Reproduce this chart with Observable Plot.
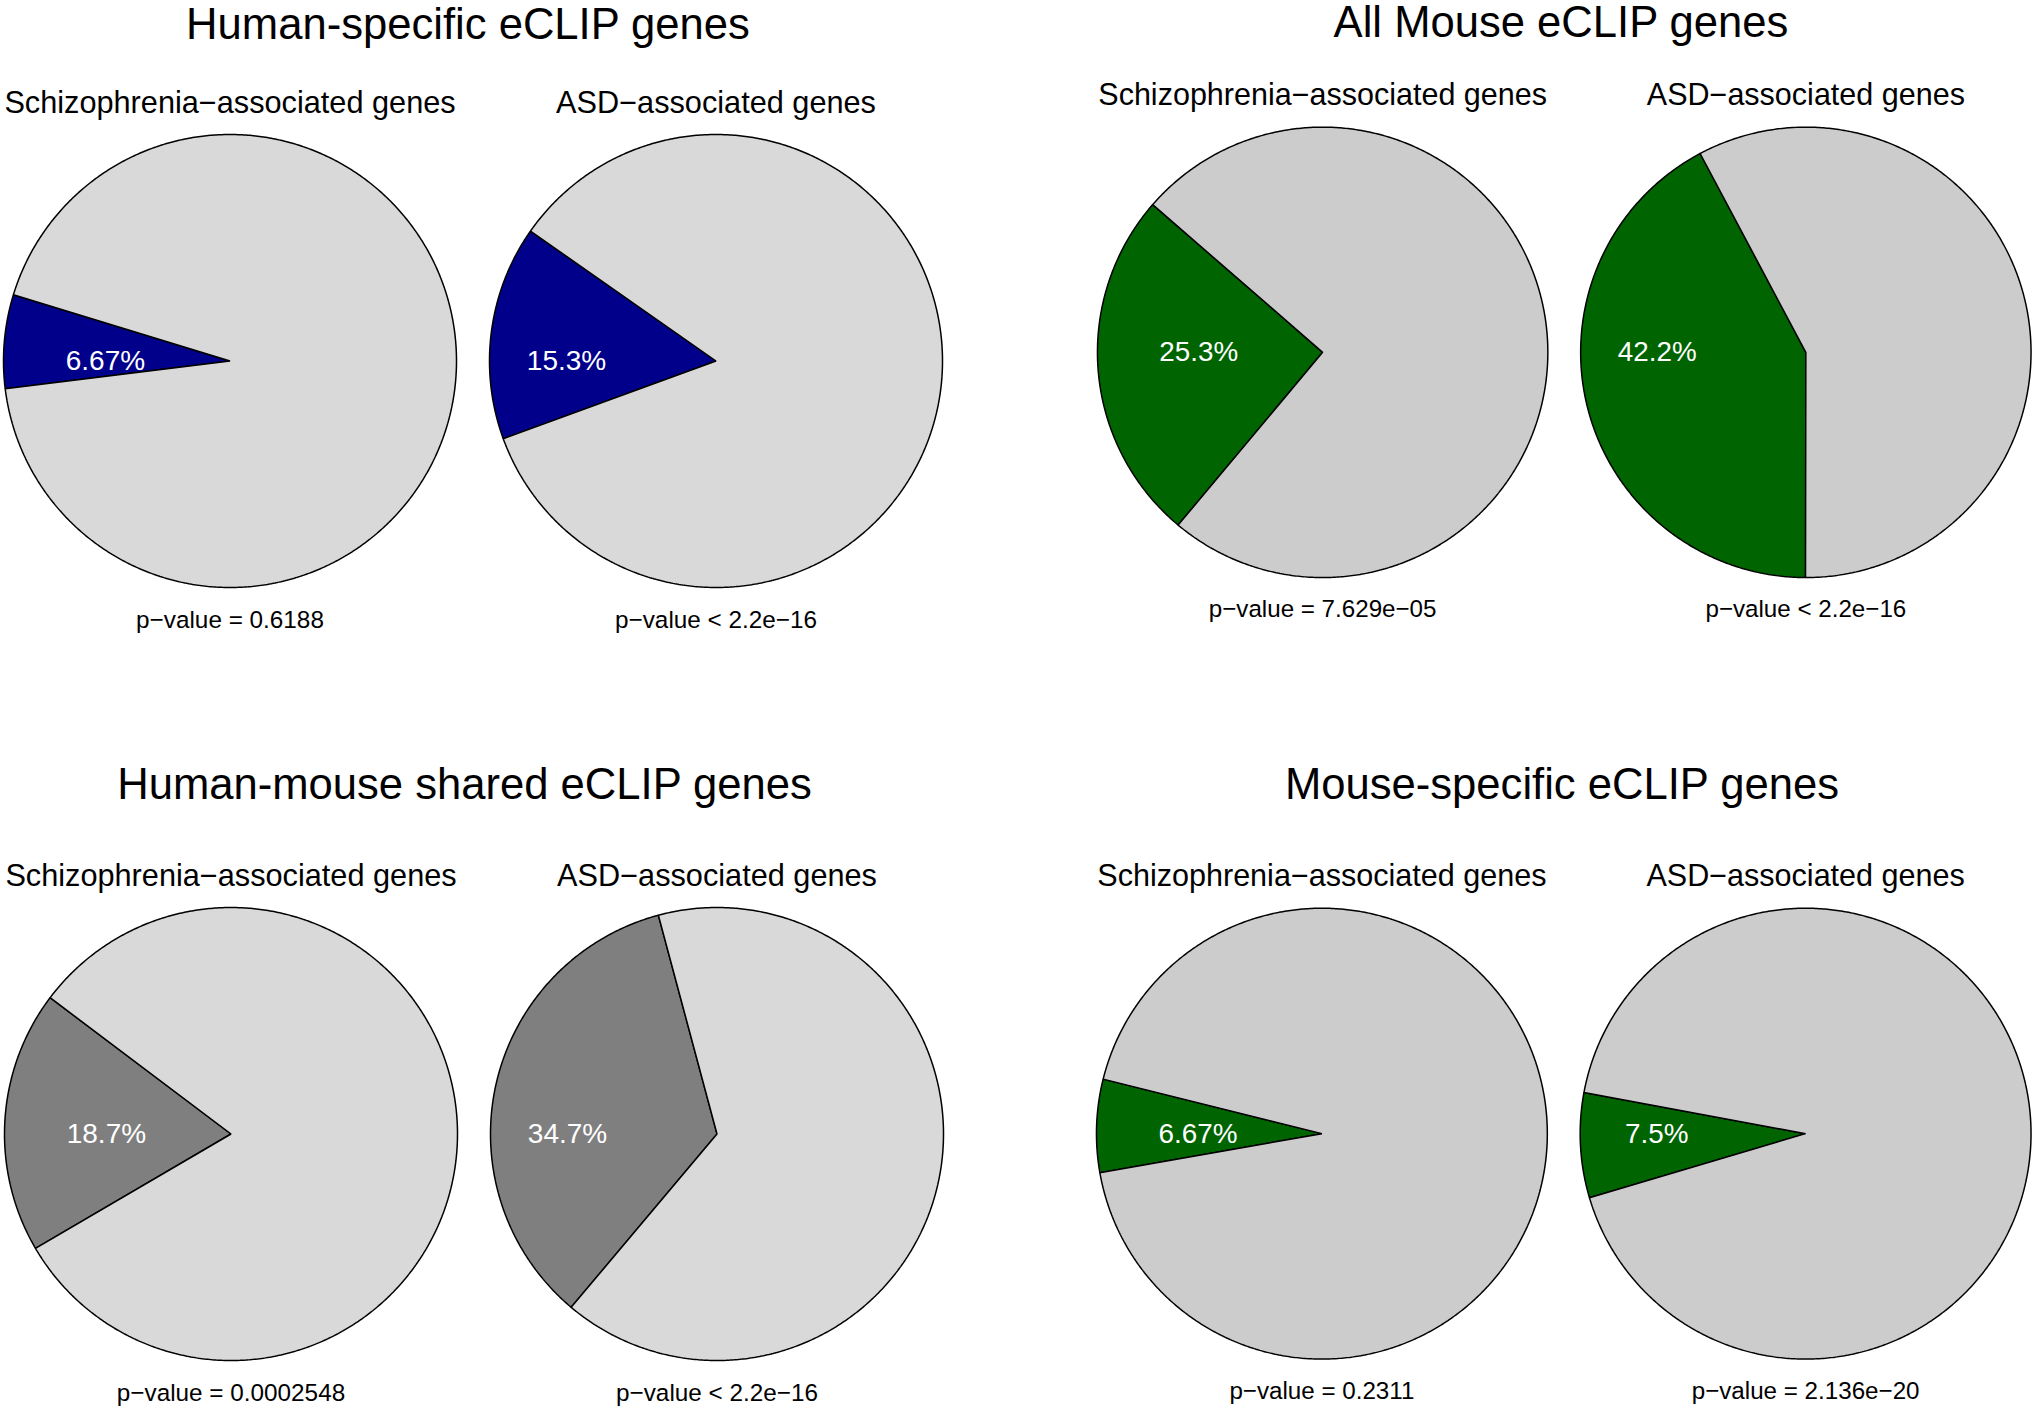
<!DOCTYPE html>
<html>
<head>
<meta charset="utf-8">
<script src="https://cdn.jsdelivr.net/npm/d3@7"></script>
<script src="https://cdn.jsdelivr.net/npm/@observablehq/plot@0.6"></script>
<style>
  html, body { margin: 0; padding: 0; background: #fff; width: 2040px; height: 1410px; overflow: hidden; }
  #root { position: relative; width: 2040px; height: 1410px; font-family: "Liberation Sans", Arial, Helvetica, sans-serif; }
  .panel { position: absolute; }
  .panel svg { overflow: visible; }
  .title { position: absolute; white-space: nowrap; transform: translateX(-50%); color: #000; line-height: 1; }
</style>
</head>
<body>
<div id="root"></div>
<script>
// ---------------- data ----------------
const panelTitles = [
  "Human-specific eCLIP genes",
  "All Mouse eCLIP genes",
  "Human-mouse shared eCLIP genes",
  "Mouse-specific eCLIP genes"
];
const geneSets = ["Schizophrenia\u2212associated genes", "ASD\u2212associated genes"];
// percentage of each gene set bound (highlighted slice), per panel: [schizophrenia, ASD]
const percents = [
  [6.67, 15.3],
  [25.3, 42.2],
  [18.7, 34.7],
  [6.67, 7.5]
];
const pValues = [
  ["p\u2212value = 0.6188", "p\u2212value < 2.2e\u221216"],
  ["p\u2212value = 7.629e\u221205", "p\u2212value < 2.2e\u221216"],
  ["p\u2212value = 0.0002548", "p\u2212value < 2.2e\u221216"],
  ["p\u2212value = 0.2311", "p\u2212value = 2.136e\u221220"]
];
// angle (degrees, counter-clockwise from 3 o'clock) where the highlighted slice starts
const sliceStart = [
  [163, 145],
  [139, 118],
  [143, 105],
  [166, 169.5]
];

// ---------------- styles / layout ----------------
const highlightColors = ["#00008B", "#006400", "#7F7F7F", "#006400"];
const restColors = ["#D9D9D9", "#CCCCCC", "#D9D9D9", "#CCCCCC"];
const R = 226.5, STEP = 486, M = {top: 60, bottom: 60, left: 10, right: 10};
const pieCenters = [[229.5, 360.5], [1323, 353], [230, 1133.5], [1322, 1134]]; // first pie of each panel
const titleCenters = [[468, 40], [1561, 37.5], [464.5, 800], [1562, 800]]; // x center, baseline
const titleSize = 43.6, subSize = 30.7, pSize = 24.3, pctSize = 28;
const labelOffset = [-0.55, -0.66]; // label x (in radii) for the two columns
const FONT = '"Liberation Sans", Arial, Helvetica, sans-serif';

function wedge(a0, a1) {
  const pts = [{x: 0, y: 0}];
  const n = Math.max(2, Math.ceil(Math.abs(a1 - a0) / 0.5));
  for (let i = 0; i <= n; i++) {
    const a = (a0 + (a1 - a0) * i / n) * Math.PI / 180;
    pts.push({x: Math.cos(a), y: Math.sin(a)});
  }
  return pts;
}

const root = document.getElementById("root");

panelTitles.forEach((title, p) => {
  const pts = [];
  const labels = [];
  const pv = [];
  geneSets.forEach((set, c) => {
    const a0 = sliceStart[p][c];
    const a1 = a0 + percents[p][c] * 3.6;
    wedge(a0, a1).forEach(d => pts.push({...d, set, key: set + "-hit", fill: highlightColors[p]}));
    wedge(a1, a0 + 360).forEach(d => pts.push({...d, set, key: set + "-rest", fill: restColors[p]}));
    labels.push({set, lx: labelOffset[c], text: `${percents[p][c]}%`});
    pv.push({set, text: pValues[p][c]});
  });

  const facetW = 2 * R;
  const width = M.left + M.right + STEP + facetW;
  const height = M.top + M.bottom + 2 * R;

  const chart = Plot.plot({
    width, height,
    marginTop: M.top, marginBottom: M.bottom, marginLeft: M.left, marginRight: M.right,
    x: {domain: [-1, 1], axis: null},
    y: {domain: [-1, 1], axis: null},
    fx: {domain: geneSets, paddingInner: (STEP - facetW) / STEP, paddingOuter: 0, round: false, label: null},
    color: {type: "identity"},
    style: {fontFamily: FONT, background: "transparent", color: "#000", overflow: "visible"},
    marks: [
      Plot.line(pts, {fx: "set", x: "x", y: "y", z: "key", fill: "fill", stroke: "#000", strokeWidth: 1.5, curve: "linear-closed", strokeLinejoin: "miter"}),
      Plot.text(labels, {fx: "set", x: "lx", y: () => 0, text: "text", fill: "#fff", fontSize: pctSize}),
      Plot.text(pv, {fx: "set", frameAnchor: "bottom", dy: 40, lineAnchor: "bottom", text: "text", fill: "#000", fontSize: pSize}),
      Plot.axisFx({anchor: "top", tickSize: 0, tickPadding: 22, fontSize: subSize, label: null, fill: "#000"})
    ]
  });

  const div = document.createElement("div");
  div.className = "panel";
  const [cx, cy] = pieCenters[p];
  div.style.left = (cx - R - M.left) + "px";
  div.style.top = (cy - R - M.top) + "px";
  div.appendChild(chart);
  root.appendChild(div);

  const t = document.createElement("div");
  t.className = "title";
  t.textContent = title;
  t.style.fontSize = titleSize + "px";
  t.style.left = titleCenters[p][0] + "px";
  t.style.top = Math.max(0, titleCenters[p][1] - 0.8465 * titleSize) + "px";
  root.appendChild(t);
});
</script>
</body>
</html>
